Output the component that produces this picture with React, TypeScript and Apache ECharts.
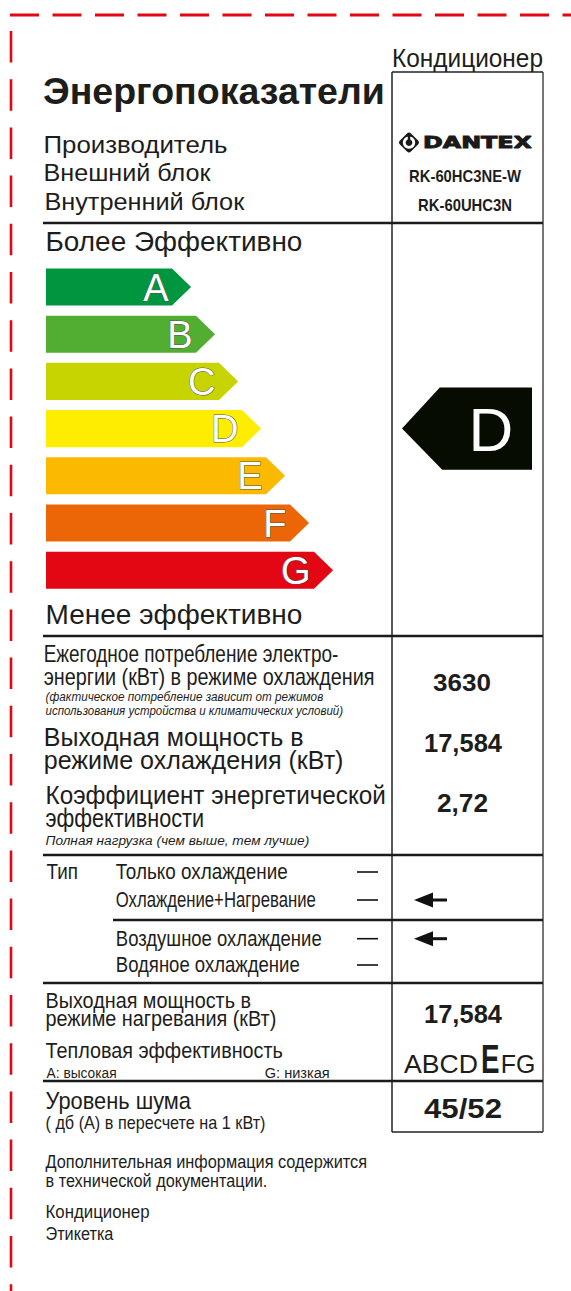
import React, { useEffect, useRef } from 'react';
import * as echarts from 'echarts';

// ---- data ----
const CLASSES = ['A', 'B', 'C', 'D', 'E', 'F', 'G'];
const CLASS_LENGTHS = [126, 150, 173, 196, 220, 244, 268];
const CLASS_COLORS = ['#009640', '#52ae32', '#c8d400', '#ffed00', '#fbba00', '#ec6608', '#e30613'];
const RATING = 'D';
const RATING_SPAN = [356, 486];
const HEAT_CLASSES = ['A', 'B', 'C', 'D', 'E', 'F', 'G'];
const HEAT_RATING = 'E';
const BRAND = 'DANTEX';
const OUTDOOR_UNIT = 'RK-60HC3NE-W';
const INDOOR_UNIT = 'RK-60UHC3N';
const ANNUAL_CONSUMPTION = '3630';
const COOLING_OUTPUT = '17,584';
const EER = '2,72';
const HEATING_OUTPUT = '17,584';
const NOISE = '45/52';
const TYPE_ROWS = ['Только охлаждение', 'Охлаждение+Нагревание', 'Воздушное охлаждение', 'Водяное охлаждение'];
const TYPE_SELECTED = [false, true, true, false];

const FF = '"Liberation Sans", Arial, Helvetica, sans-serif';
const INK = '#1d1d1b';
const RED = '#e30613';

let measureCtx: CanvasRenderingContext2D | null = null;
function textW(text: string, font: string) {
  if (!measureCtx) measureCtx = document.createElement('canvas').getContext('2d');
  measureCtx!.font = font;
  return measureCtx!.measureText(text).width;
}

type TOpt = {
  w?: number; weight?: string; italic?: boolean; align?: string; color?: string; family?: string; stroke?: number;
};
function T(text: string, x: number, y: number, size: number, o: TOpt = {}) {
  const font = `${o.italic ? 'italic' : 'normal'} ${o.weight || 'normal'} ${size}px ${o.family || FF}`;
  let sx = 1;
  if (o.w) sx = Math.max(0.6, Math.min(1.6, o.w / textW(text, font)));
  const style: any = { text, font, fill: o.color || INK, align: o.align || 'left', verticalAlign: 'middle' };
  if (o.stroke) {
    style.stroke = o.color || INK;
    style.lineWidth = o.stroke;
  }
  return { type: 'text', x, y, scaleX: sx, silent: true, style };
}
function L(x1: number, y1: number, x2: number, y2: number, lw = 2.5, color = '#1a1a1a', dash?: number[]) {
  return {
    type: 'line',
    silent: true,
    shape: { x1, y1, x2, y2 },
    style: { stroke: color, lineWidth: lw, lineDash: dash },
  };
}
function leftArrow(y: number) {
  return [
    { type: 'polygon', silent: true, shape: { points: [[414, y], [433, y - 7.5], [433, y + 7.5]] }, style: { fill: '#111' } },
    L(430, y, 447, y, 3, '#111'),
  ];
}

echarts.graphic.registerShape(
  'dantexIcon',
  echarts.graphic.extendPath(
    'M10 0 C10.8 0 11.5 0.4 12 0.9 L19.1 8 C20.3 9.2 20.3 10.8 19.1 12 L12 19.1 C10.8 20.3 9.2 20.3 8 19.1 L0.9 12 C-0.3 10.8 -0.3 9.2 0.9 8 L8 0.9 C8.5 0.4 9.2 0 10 0 Z',
    {}
  ) as any
);

function buildOption() {
  const g: any[] = [];
  // red cut lines
  g.push(L(10, 15, 571, 15, 3, RED, [29, 13.5]));
  g.push(L(11, 31, 11, 1291, 2.6, RED, [31.5, 16.7]));

  // right column box
  g.push(L(392, 72, 392, 1132, 1.5, '#222'));
  g.push(L(543, 72, 543, 1132, 2, '#777'));
  g.push(L(392, 72, 543, 72, 1.5, '#222'));
  g.push(L(392, 1132, 543, 1132, 1.5, '#222'));

  // horizontal rules
  [223, 636, 855, 983, 1081].forEach((y) => g.push(L(43, y, 543, y, 2.5)));
  g.push(L(113, 920, 543, 920, 2.5));

  // header
  g.push(T('Кондиционер', 392, 58, 25, { w: 151 }));
  g.push(T('Энергопоказатели', 43, 92, 36, { weight: 'bold', w: 342 }));
  g.push(T('Производитель', 43.5, 144, 24, { w: 184 }));
  g.push(T('Внешний блок', 43.5, 173, 24, { w: 167 }));
  g.push(T('Внутренний блок', 44.4, 201.5, 24, { w: 200 }));

  // brand logo
  g.push({ type: 'dantexIcon', x: 399, y: 132.5, scaleX: 1, scaleY: 1, silent: true, style: { fill: '#1a1a1a' } });
  g.push({ type: 'ring', silent: true, shape: { cx: 409, cy: 142.6, r: 6.2, r0: 3.4 }, style: { fill: '#fff' } });
  g.push({ type: 'rect', silent: true, shape: { x: 407.8, y: 135.5, width: 2.4, height: 7.5 }, style: { fill: '#1a1a1a' } });
  g.push(T(BRAND, 423, 143, 15.5, { weight: 'bold', w: 109, family: '"DejaVu Sans", sans-serif', color: '#1a1a1a', stroke: 0.9 }));
  g.push(T(OUTDOOR_UNIT, 465, 176, 16.5, { weight: 'bold', w: 112, align: 'center' }));
  g.push(T(INDOOR_UNIT, 465, 205.5, 16.5, { weight: 'bold', w: 94, align: 'center' }));

  // scale captions
  g.push(T('Более Эффективно', 45.5, 241, 28, { w: 257 }));
  g.push(T('Менее эффективно', 45.5, 615, 28, { w: 257 }));

  // annual consumption
  g.push(T('Ежегодное потребление электро-', 43.7, 653.5, 23, { w: 295 }));
  g.push(T('энергии (кВт) в режиме охлаждения', 43.7, 677, 23, { w: 331 }));
  g.push(T('(фактическое потребление зависит от режимов', 45.5, 696.5, 12.5, { italic: true, w: 278 }));
  g.push(T('использования устройства и климатических условий)', 45.5, 710.5, 12.5, { italic: true, w: 298 }));
  g.push(T(ANNUAL_CONSUMPTION, 462, 682, 24.5, { weight: 'bold', w: 58, align: 'center' }));

  // cooling output
  g.push(T('Выходная мощность в', 43.7, 737, 26, { w: 260 }));
  g.push(T('режиме охлаждения (кВт)', 43.7, 759.5, 26, { w: 300 }));
  g.push(T(COOLING_OUTPUT, 463, 742.8, 25, { weight: 'bold', w: 78, align: 'center' }));

  // efficiency
  g.push(T('Коэффициент энергетической', 45.5, 795, 26.5, { w: 340.5 }));
  g.push(T('эффективности', 45.5, 818, 26.5, { w: 158.5 }));
  g.push(T('Полная нагрузка (чем выше, тем лучше)', 45.5, 841, 12.5, { italic: true, w: 264 }));
  g.push(T(EER, 462.5, 803.5, 25, { weight: 'bold', w: 51, align: 'center' }));

  // type
  g.push(T('Тип', 46.6, 872, 21.5, { w: 31.4 }));
  const typeY = [872, 900, 938.7, 965];
  const typeW = [172, 200, 206, 184];
  TYPE_ROWS.forEach((t, i) => {
    g.push(T(t, 115.8, typeY[i], 21.5, { w: typeW[i] }));
    g.push(L(357, typeY[i], 378, typeY[i], 1.6, '#111'));
    if (TYPE_SELECTED[i]) leftArrow(typeY[i]).forEach((e) => g.push(e));
  });

  // heating
  g.push(T('Выходная мощность в', 45.5, 1000, 21.5, { w: 205.5 }));
  g.push(T('режиме нагревания (кВт)', 45.5, 1018, 21.5, { w: 231 }));
  g.push(T(HEATING_OUTPUT, 463, 1014, 25, { weight: 'bold', w: 78, align: 'center' }));
  g.push(T('Тепловая эффективность', 45.5, 1050, 21.5, { w: 237.5 }));
  g.push(T('A: высокая', 46.6, 1073, 15, { w: 70 }));
  g.push(T('G: низкая', 264.7, 1073, 15, { w: 65 }));
  const hi = HEAT_CLASSES.indexOf(HEAT_RATING);
  const before = HEAT_CLASSES.slice(0, hi).join('');
  const after = HEAT_CLASSES.slice(hi + 1).join('');
  g.push(T(before, 404, 1063.7, 26, { w: 74 }));
  g.push(T(HEAT_RATING, 481, 1058.8, 40, { weight: 'bold', w: 18.5 }));
  g.push(T(after, 500.7, 1063.7, 26, { w: 34.6 }));

  // noise
  g.push(T('Уровень шума', 45.5, 1101, 24, { w: 145.5 }));
  g.push(T('( дб (А) в пересчете на 1 кВт)', 45.5, 1122.5, 18, { w: 220 }));
  g.push(T(NOISE, 463, 1108, 28, { weight: 'bold', w: 78, align: 'center' }));

  // footer
  g.push(T('Дополнительная информация содержится', 45.5, 1162, 17.5, { w: 322 }));
  g.push(T('в технической документации.', 45.5, 1181.5, 17.5, { w: 222 }));
  g.push(T('Кондиционер', 45.5, 1212, 17.5, { w: 104 }));
  g.push(T('Этикетка', 45.5, 1234, 17.5, { w: 68 }));

  const barData = CLASSES.map((c, i) => [CLASS_LENGTHS[i], c]);
  const ratingData = [[RATING_SPAN[0], RATING_SPAN[1], RATING]];

  return {
    animation: false,
    backgroundColor: '#ffffff',
    grid: { left: 46, top: 263.4, width: 500, height: 330.4, containLabel: false },
    xAxis: { type: 'value', min: 0, max: 500, show: false },
    yAxis: { type: 'category', data: CLASSES, inverse: true, show: false },
    series: [
      {
        type: 'custom',
        data: barData,
        encode: { x: 0, y: 1 },
        renderItem: (params: any, api: any) => {
          const cat = api.value(1);
          const start = api.coord([0, cat]);
          const end = api.coord([api.value(0), cat]);
          const band = api.size([0, 1])[1];
          const h = band * 0.785;
          const y = start[1];
          const x0 = start[0];
          const x1 = end[0];
          const tip = (h / 2) * 1.03;
          const i = params.dataIndex;
          return {
            type: 'group',
            children: [
              {
                type: 'polygon',
                shape: { points: [[x0, y - h / 2], [x1, y - h / 2], [x1 + tip, y], [x1, y + h / 2], [x0, y + h / 2]] },
                style: { fill: CLASS_COLORS[i] },
              },
              {
                type: 'text',
                x: x1 - 3.5,
                y: y + 0.5,
                style: {
                  text: CLASSES[i],
                  font: `normal 38px ${FF}`,
                  fill: '#ffffff',
                  stroke: '#555555',
                  lineWidth: 1,
                  align: 'right',
                  verticalAlign: 'middle',
                },
              },
            ],
          };
        },
      },
      {
        type: 'custom',
        data: ratingData,
        encode: { x: [0, 1], y: 2 },
        renderItem: (params: any, api: any) => {
          const cat = api.value(2);
          const a = api.coord([api.value(0), cat]);
          const b = api.coord([api.value(1), cat]);
          const band = api.size([0, 1])[1];
          const H = band * 1.74;
          const y = a[1];
          return {
            type: 'group',
            children: [
              {
                type: 'polygon',
                shape: {
                  points: [[a[0], y], [a[0] + H * 0.46, y - H / 2], [b[0], y - H / 2], [b[0], y + H / 2], [a[0] + H * 0.49, y + H / 2]],
                },
                style: { fill: '#060d00' },
              },
              {
                type: 'text',
                x: b[0] - 41,
                y: y + 0.5,
                style: {
                  text: RATING,
                  font: `normal 62px ${FF}`,
                  fill: '#ffffff',
                  align: 'center',
                  verticalAlign: 'middle',
                },
              },
            ],
          };
        },
      },
    ],
    graphic: { elements: g },
  };
}

export default function App() {
  const ref = useRef<HTMLDivElement>(null);
  useEffect(() => {
    document.body.style.margin = '0';
    const chart = echarts.init(ref.current!, null, { renderer: 'svg' });
    chart.setOption(buildOption() as any);
    return () => chart.dispose();
  }, []);
  return <div ref={ref} style={{ width: 571, height: 1291, background: '#fff' }} />;
}
